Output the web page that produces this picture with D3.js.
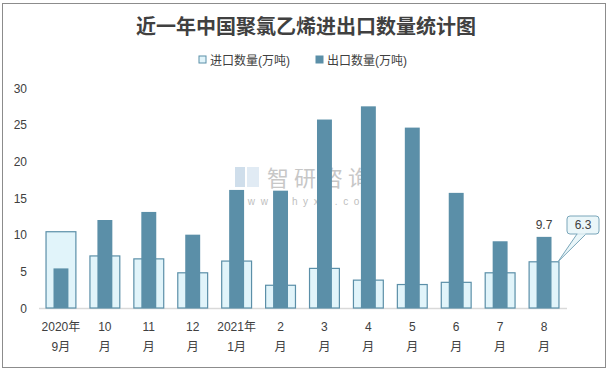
<!DOCTYPE html>
<html>
<head>
<meta charset="utf-8">
<script src="https://cdn.jsdelivr.net/npm/d3@7"></script>
<style>
  body { margin: 0; background: #fff; }
  text { font-family: "Liberation Sans", "Noto Sans CJK SC", sans-serif; }
</style>
</head>
<body>
<div id="chart"></div>
<script>
const monthsTop = ["2020年", "10", "11", "12", "2021年", "2", "3", "4", "5", "6", "7", "8"];
const monthsBottom = ["9月", "月", "月", "月", "1月", "月", "月", "月", "月", "月", "月", "月"];
const importQty = [10.4, 7.1, 6.7, 4.8, 6.4, 3.1, 5.4, 3.8, 3.2, 3.5, 4.8, 6.3];
const exportQty = [5.4, 12.0, 13.1, 10.0, 16.1, 16.0, 25.7, 27.5, 24.6, 15.7, 9.1, 9.7];
const yTicks = [0, 5, 10, 15, 20, 25, 30];

const width = 611, height = 372;
const margin = { top: 88, right: 45, bottom: 64, left: 39 };

const svg = d3.select("#chart").append("svg")
    .attr("width", width)
    .attr("height", height);

// outer frame
svg.append("rect")
    .attr("x", 2.5).attr("y", 3.5)
    .attr("width", 603).attr("height", 364)
    .attr("fill", "#fff")
    .attr("stroke", "#8c8c8c")
    .attr("stroke-width", 1);

const idx = d3.range(monthsTop.length);

const x = d3.scaleBand()
    .domain(idx)
    .range([margin.left, width - margin.right]);

const y = d3.scaleLinear()
    .domain([0, 30])
    .range([height - margin.bottom, margin.top]);

const bw = x.bandwidth();
const cx = i => x(i) + bw / 2;

// title
svg.append("text")
    .attr("x", 306).attr("y", 34)
    .attr("text-anchor", "middle")
    .style("font-family", "'Noto Sans CJK SC', sans-serif")
    .style("font-size", "20px")
    .style("font-weight", "bold")
    .style("fill", "#404040")
    .text("近一年中国聚氯乙烯进出口数量统计图");

// legend
const legend = [
    { label: "进口数量(万吨)", fill: "#e1f4fa", stroke: "#5b8fa8", x: 199 },
    { label: "出口数量(万吨)", fill: "#5b8fa8", stroke: "#5b8fa8", x: 316 }
];
const lg = svg.append("g").selectAll("g").data(legend).enter().append("g");
lg.append("rect")
    .attr("x", d => d.x).attr("y", 56)
    .attr("width", 7).attr("height", 7)
    .attr("fill", d => d.fill)
    .attr("stroke", d => d.stroke);
lg.append("text")
    .attr("x", d => d.x + 11).attr("y", 64.5)
    .style("font-size", "12px")
    .style("fill", "#404040")
    .text(d => d.label);

// watermark
const wm = svg.append("g").attr("opacity", 0.55);
wm.append("rect").attr("x", 235).attr("y", 167).attr("width", 10).attr("height", 20).attr("fill", "#a9c4dc");
wm.append("rect").attr("x", 247).attr("y", 167).attr("width", 12).attr("height", 20).attr("fill", "#c9dcec");
wm.append("text")
    .attr("x", 267).attr("y", 186)
    .style("font-family", "'Noto Sans CJK SC', sans-serif")
    .style("font-size", "22px")
    .style("letter-spacing", "5px")
    .style("fill", "#9a9a9a")
    .text("智研咨询");
wm.append("text")
    .attr("x", 235).attr("y", 205)
    .style("font-size", "10px")
    .style("letter-spacing", "5.6px")
    .style("fill", "#8a8a8a")
    .text("www.chyxx.com");

// baseline
svg.append("line")
    .attr("x1", margin.left).attr("x2", width - margin.right + 1)
    .attr("y1", y(0) + 0.5).attr("y2", y(0) + 0.5)
    .attr("stroke", "#d9d9d9")
    .attr("stroke-width", 1.5);

// y axis labels
svg.append("g").selectAll("text")
    .data(yTicks).enter().append("text")
    .attr("x", 27)
    .attr("y", d => y(d) + 4.5)
    .attr("text-anchor", "end")
    .style("font-size", "12px")
    .style("fill", "#404040")
    .text(d => d);

// import bars (wide, light)
const impW = bw * 0.68;
svg.append("g").selectAll("rect")
    .data(importQty).enter().append("rect")
    .attr("x", (d, i) => cx(i) - impW / 2)
    .attr("y", d => y(d))
    .attr("width", impW)
    .attr("height", d => y(0) - y(d))
    .attr("fill", "#e1f4fa")
    .attr("stroke", "#5b8fa8")
    .attr("stroke-width", 1.2);

// export bars (narrow, dark)
const expW = bw * 0.34;
svg.append("g").selectAll("rect")
    .data(exportQty).enter().append("rect")
    .attr("x", (d, i) => cx(i) - expW / 2)
    .attr("y", d => y(d))
    .attr("width", expW)
    .attr("height", d => y(0) - y(d))
    .attr("fill", "#5b8fa8");

// x labels
const xl = svg.append("g").selectAll("g").data(idx).enter().append("g");
xl.append("text")
    .attr("x", i => cx(i)).attr("y", 331)
    .attr("text-anchor", "middle")
    .style("font-size", "12px")
    .style("fill", "#404040")
    .text(i => monthsTop[i]);
xl.append("text")
    .attr("x", i => cx(i)).attr("y", 351)
    .attr("text-anchor", "middle")
    .style("font-size", "12px")
    .style("fill", "#404040")
    .text(i => monthsBottom[i]);

// data label for last export bar
const last = importQty.length - 1;
svg.append("text")
    .attr("x", cx(last)).attr("y", y(exportQty[last]) - 8)
    .attr("text-anchor", "middle")
    .style("font-size", "12px")
    .style("fill", "#404040")
    .text(exportQty[last]);

// callout for last import bar
const px = cx(last) + impW / 2 - 1, py = y(importQty[last]);
const bx = 567, by = 216, bwid = 32, bh = 18;
svg.append("path")
    .attr("d", `M${bx + 10},${by + bh} L${px},${py} L${bx + 19},${by + bh}`)
    .attr("fill", "#eaf6f9")
    .attr("stroke", "#7aa6ba");
svg.append("rect")
    .attr("x", bx).attr("y", by)
    .attr("width", bwid).attr("height", bh)
    .attr("rx", 3)
    .attr("fill", "#eaf6f9")
    .attr("stroke", "#7aa6ba");
svg.append("line")
    .attr("x1", bx + 10.5).attr("x2", bx + 18.5)
    .attr("y1", by + bh).attr("y2", by + bh)
    .attr("stroke", "#eaf6f9")
    .attr("stroke-width", 1.5);
svg.append("text")
    .attr("x", bx + bwid / 2).attr("y", by + 13)
    .attr("text-anchor", "middle")
    .style("font-size", "12px")
    .style("fill", "#404040")
    .text(importQty[last]);
</script>
</body>
</html>
